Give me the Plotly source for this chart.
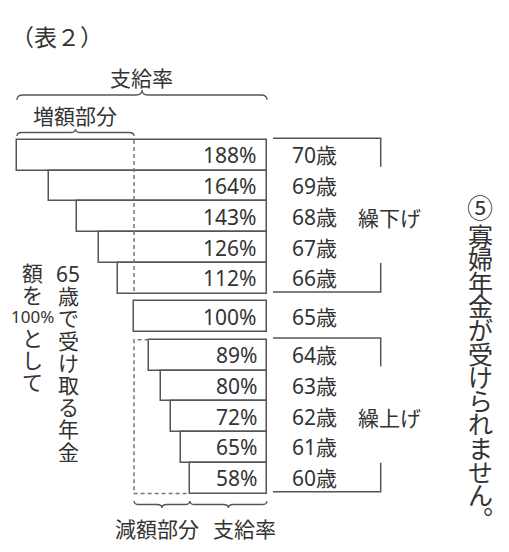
import plotly.graph_objects as go

# ---- data ----
ages = [70, 69, 68, 67, 66, 65, 64, 63, 62, 61, 60]
rates = [188, 164, 143, 126, 112, 100, 89, 80, 72, 65, 58]
age_labels = [f"{a}歳" for a in ages]
rate_labels = [f"{r}%" for r in rates]
title_text = "（表２）"
top_brace_label = "支給率"
inc_label = "増額部分"
dec_label = "減額部分"
bottom_rate_label = "支給率"
delay_label = "繰下げ"
early_label = "繰上げ"
left_col_a = ["65", "歳", "で", "受", "け", "取", "る", "年", "金"]
left_col_b = ["額", "を", "100%", "と", "し", "て"]
right_head = "⑤"
right_col = list("寡婦年金が受けられません︒")
BASE_AGE = 65

# ---- layout constants (page pixel coordinates) ----
PAGE_W, PAGE_H = 509, 552
BODY = 8                      # default body margin of the html page
W, H = PAGE_W - BODY, PAGE_H - BODY
SX = 1.33          # px per percent
X0_PX = 267        # page px of 0 %
ROW_PX = 30.75     # px per row
ROW0_PX = 155.3    # page px of first row centre
GAP = 0.25
FONT = "Noto Sans, Noto Sans CJK JP"
CJK = "Noto Sans CJK JP"
TXT = "#333333"
LINE = "#555555"


def xpx(p):
    return (X0_PX - p) / SX


def ypx(p):
    return (p - ROW0_PX) / ROW_PX


def dy(p):
    return p / ROW_PX


# row positions
ypos = []
off = 0.0
for i, a in enumerate(ages):
    if a == BASE_AGE or a == BASE_AGE - 1:
        off += GAP
    ypos.append(i + off)

base_rate = rates[ages.index(BASE_AGE)]
delay_rows = [y for a, y in zip(ages, ypos) if a > BASE_AGE]
early_rows = [y for a, y in zip(ages, ypos) if a < BASE_AGE]
early_rates = [r for a, r in zip(ages, rates) if a < BASE_AGE]

fig = go.Figure()
fig.add_trace(go.Bar(
    orientation="h", x=rates, y=ypos, width=1.0,
    marker=dict(color="white", line=dict(color=LINE, width=1.5)),
    hoverinfo="skip", showlegend=False,
))

ann = []
shapes = []

# rate labels and age labels
for r, y, lab, al in zip(rates, ypos, rate_labels, age_labels):
    ann.append(dict(x=xpx(259), y=y, text=lab, xanchor="right", yanchor="middle",
                    showarrow=False, font=dict(size=21, color=TXT, family=FONT)))
    ann.append(dict(x=xpx(290), y=y, text=al, xanchor="left", yanchor="middle",
                    showarrow=False, font=dict(size=21, color=TXT, family=FONT)))


def bracket(top, bottom, label):
    t = top - dy(1.7)
    b = bottom - dy(1.7)
    xa, xb = xpx(273), xpx(380.7)
    path = (f"M {xa},{t} L {xb},{t} L {xb},{t + dy(28.5)} "
            f"M {xb},{b - dy(29)} L {xb},{b} L {xa},{b}")
    shapes.append(dict(type="path", xref="x", yref="y", path=path,
                       line=dict(color=LINE, width=1.5)))
    ann.append(dict(x=xpx(356), y=(top + bottom) / 2, text=label, xanchor="left",
                    yanchor="middle", showarrow=False,
                    font=dict(size=21, color=TXT, family=CJK)))


bracket(min(delay_rows) - 0.5, max(delay_rows) + 0.5, delay_label)
bracket(min(early_rows) - 0.5, max(early_rows) + 0.5, early_label)

# dashed guides
dash = dict(color="#777777", width=1.5, dash="4px,3px")
shapes.append(dict(type="line", xref="x", yref="y", x0=base_rate, x1=base_rate,
                   y0=min(delay_rows) - 0.5, y1=max(delay_rows) + 0.5, line=dash))
et, eb = min(early_rows) - 0.5, max(early_rows) + 0.5
shapes.append(dict(type="path", xref="x", yref="y",
                   path=(f"M {early_rates[0]},{et} L {base_rate},{et} L {base_rate},{eb} "
                         f"L {early_rates[-1]},{eb}"), line=dash))


def brace(x0, x1, yb, h_px, d_px, up=True):
    h = dy(h_px) * (-1 if up else 1)
    s = 1 if x1 > x0 else -1
    d = d_px / SX * s
    xm = (x0 + x1) / 2
    path = (f"M {x0},{yb} Q {x0},{yb + h} {x0 + d},{yb + h} L {xm - d},{yb + h} "
            f"Q {xm},{yb + h} {xm},{yb + 2 * h} Q {xm},{yb + h} {xm + d},{yb + h} "
            f"L {x1 - d},{yb + h} Q {x1},{yb + h} {x1},{yb}")
    shapes.append(dict(type="path", xref="x", yref="y", path=path,
                       line=dict(color=LINE, width=1.3)))


max_rate = max(rates)
min_rate = min(rates)
brace(max_rate, 0, ypx(100), 5, 6, up=True)
brace(max_rate, base_rate, ypx(136), 3.5, 5, up=True)
brace(base_rate, min_rate, ypx(501), 3.5, 5, up=False)
brace(min_rate, 0, ypx(501), 3.5, 5, up=False)

lab_font = dict(size=21, color=TXT, family=CJK)
ann.append(dict(x=max_rate / 2, y=ypx(77), text=top_brace_label, showarrow=False,
                xanchor="center", yanchor="middle", font=lab_font))
ann.append(dict(x=(max_rate + base_rate) / 2, y=ypx(115), text=inc_label, showarrow=False,
                xanchor="center", yanchor="middle", font=lab_font))
ann.append(dict(x=(base_rate + min_rate) / 2, y=ypx(528), text=dec_label, showarrow=False,
                xanchor="center", yanchor="middle", xshift=-5, font=lab_font))
ann.append(dict(x=min_rate / 2, y=ypx(528), text=bottom_rate_label, showarrow=False,
                xanchor="center", yanchor="middle", xshift=16, font=lab_font))
ann.append(dict(x=xpx(56.5), y=ypx(36), text=title_text, showarrow=False,
                xanchor="center", yanchor="middle", font=dict(size=23, color=TXT, family=CJK)))


def column(items, xc, y_first, step, size, family=CJK, special=None):
    for i, ch in enumerate(items):
        sz = size
        if special and ch in special:
            sz = special[ch]
        ann.append(dict(x=xpx(xc), y=ypx(y_first + i * step), text=ch, showarrow=False,
                        xanchor="center", yanchor="middle",
                        font=dict(size=sz, color=TXT, family=family)))


column(left_col_a, 68, 274, 22.2, 21, family=FONT)
column(left_col_b, 32, 273, 21.8, 21, family=FONT, special={"100%": 17})
column([right_head], 480, 206, 0, 26)
column(right_col, 480, 234.5, 23.6, 25)

fig.update_layout(
    width=W, height=H, margin=dict(l=0, r=0, t=0, b=0),
    paper_bgcolor="white", plot_bgcolor="white",
    xaxis=dict(range=[xpx(BODY), xpx(BODY + W)], visible=False, fixedrange=True),
    yaxis=dict(range=[ypx(BODY + H), ypx(BODY)], visible=False, fixedrange=True),
    annotations=ann, shapes=shapes, showlegend=False, bargap=0,
)
fig.write_html("out.html")
